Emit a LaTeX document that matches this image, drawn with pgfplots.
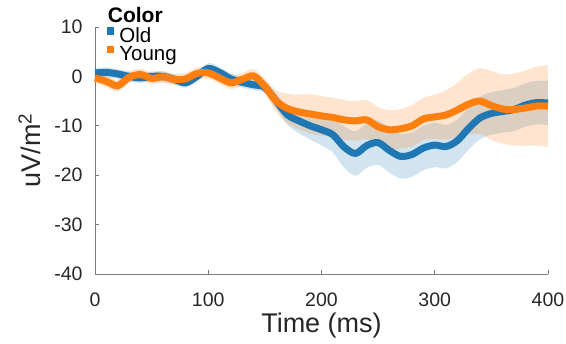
\documentclass[border=0pt]{standalone}
\usepackage{pgfplots}
\pgfplotsset{compat=1.18}
\usepackage{pgfplotstable}
\usepgfplotslibrary{fillbetween}
\usepackage{fontspec}
\setmainfont{Liberation Sans}
\definecolor{tabblue}{HTML}{1F77B4}
\definecolor{taborange}{HTML}{FF7F0E}
\definecolor{axgray}{HTML}{7A7A7A}

\pgfplotstableread{
x    o      oe    y      ye
0    0.7    1.0   -0.3   1.2
10   0.8    1.0   -1.0   1.2
20   0.5    1.0   -1.9   1.2
30   0.0    1.0   -0.2   1.2
40   -0.3   1.0   0.4    1.2
50   0.0    1.0   -0.4   1.2
60   0.0    1.0   -0.1   1.2
70   -0.6   1.0   -0.6   1.2
80   -1.3   1.0   -0.5   1.2
90   0.0    1.0   0.6    1.2
100  1.6    1.1   0.7    1.2
110  0.8    1.1   -0.3   1.2
120  -0.5   1.1   -1.3   1.3
130  -1.2   1.1   -0.6   1.3
140  -1.7   1.1   0.1    1.4
150  -2.2   1.2   -2.0   1.6
160  -5.0   1.5   -5.0   2.2
170  -7.8   2.0   -6.5   3.0
180  -9.0   2.5   -7.2   3.5
190  -10.0  2.8   -7.6   4.0
200  -10.8  3.2   -8.0   4.0
210  -11.8  3.6   -8.3   4.0
220  -14.3  4.2   -8.8   4.0
230  -15.6  4.5   -9.0   4.0
240  -14.0  4.5   -8.8   4.0
250  -13.4  4.5   -10.2  4.0
260  -15.0  4.5   -10.8  4.0
270  -16.2  4.5   -10.6  4.0
280  -15.8  4.5   -10.0  4.2
290  -14.5  4.5   -8.6   4.3
300  -13.9  4.5   -8.2   4.5
310  -14.2  4.4   -7.8   5.0
320  -13.0  4.3   -6.8   5.5
330  -10.5  4.3   -5.6   6.2
340  -8.4   4.3   -5.0   6.7
350  -7.5   4.3   -5.9   7.0
360  -7.1   4.3   -6.6   7.0
370  -6.7   4.4   -6.7   7.3
380  -5.8   4.4   -6.4   7.6
390  -5.3   4.4   -6.0   8.0
400  -5.4   4.5   -6.0   8.3
}\data

\begin{document}
\begin{tikzpicture}
\begin{axis}[
  at={(0,0)}, anchor=south west,
  scale only axis, width=453pt, height=247pt,
  xmin=0, xmax=400, ymin=-40, ymax=10,
  axis x line=bottom, axis y line=left,
  axis line style={-, draw=axgray, line width=0.8pt},
  tick style={draw=axgray, line width=0.8pt},
  tick align=inside, major tick length=4pt,
  xtick={0,100,...,400}, ytick={-40,-30,...,10},
  /pgf/number format/assume math mode=true,
  ticklabel style={font=\fontsize{19.5}{19.5}\selectfont, text=black!85},
  xticklabel style={yshift=-15pt},
  yticklabel style={xshift=-9pt},
  xlabel={Time (ms)}, ylabel={uV/m\textsuperscript{2}},
  label style={font=\fontsize{27}{27}\selectfont, text=black!85},
  xlabel style={at={(axis description cs:0.5,0)}, anchor=base, yshift=-59pt},
  ylabel style={at={(axis description cs:-0.12,0.5)}, anchor=base},
  legend style={draw=none, fill=none, at={(axis description cs:0.026,1.0)}, anchor=north west,
    font=\fontsize{20.5}{20.5}\selectfont, row sep=0pt, inner sep=0pt,
    nodes={inner sep=0pt, text height=15pt, text depth=3.5pt}},
  legend cell align=left,
  clip=false,
]
\addplot[name path=ou, draw=none, smooth, forget plot] table[x=x, y expr=\thisrow{o}+\thisrow{oe}] {\data};
\addplot[name path=ol, draw=none, smooth, forget plot] table[x=x, y expr=\thisrow{o}-\thisrow{oe}] {\data};
\addplot[fill=tabblue, fill opacity=0.2, draw=none, forget plot] fill between[of=ou and ol];
\addplot[tabblue, line width=7pt, smooth, forget plot] table[x=x, y=o] {\data};
\addplot[name path=yu, draw=none, smooth, forget plot] table[x=x, y expr=\thisrow{y}+\thisrow{ye}] {\data};
\addplot[name path=yl, draw=none, smooth, forget plot] table[x=x, y expr=\thisrow{y}-\thisrow{ye}] {\data};
\addplot[fill=taborange, fill opacity=0.2, draw=none, forget plot] fill between[of=yu and yl];
\addplot[taborange, line width=7pt, smooth, forget plot] table[x=x, y=y] {\data};
\addlegendimage{legend image code/.code={\fill[tabblue] (0pt,2.5pt) rectangle (6.5pt,9pt); \path (12pt,0pt);}}
\addlegendentry{Old}
\addlegendimage{legend image code/.code={\fill[taborange] (0pt,2.5pt) rectangle (6.5pt,9pt); \path (12pt,0pt);}}
\addlegendentry{Young}
\node[anchor=base west, font=\bfseries\fontsize{21}{21}\selectfont, inner sep=0pt] at (axis description cs:0.028,1.0) [yshift=4pt] {Color};
\end{axis}
\pgfresetboundingbox
\path (-95pt,-70pt) rectangle (471pt,274pt);
\end{tikzpicture}
\end{document}
